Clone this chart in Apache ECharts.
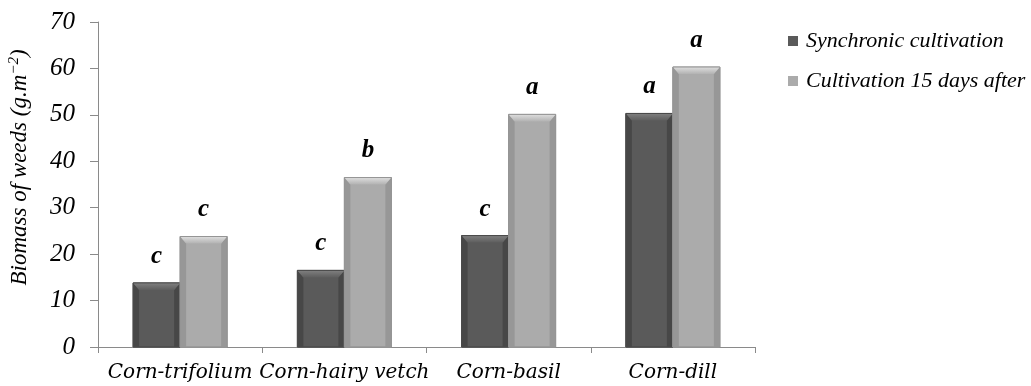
<!DOCTYPE html>
<html>
<head>
<meta charset="utf-8">
<script src="https://cdn.jsdelivr.net/npm/echarts@6/dist/echarts.min.js"></script>
<style>
  html, body { margin: 0; padding: 0; background: #fff; }
  #chart { width: 1031px; height: 386px; }
</style>
</head>
<body>
<div id="chart"></div>
<script>
// Weed biomass per intercropping treatment
const categories = ['Corn-trifolium', 'Corn-hairy vetch', 'Corn-basil', 'Corn-dill'];
const seriesNames = ['Synchronic cultivation', 'Cultivation 15 days after'];
const synchronic = [13.8, 16.5, 24.0, 50.3];
const delayed = [23.8, 36.5, 50.1, 60.3];
const synchronicLetters = ['c', 'c', 'c', 'a'];
const delayedLetters = ['c', 'b', 'a', 'a'];
const yTicks = [0, 10, 20, 30, 40, 50, 60, 70];

const serif = '"Liberation Serif", "DejaVu Serif", serif';
const wideSerif = '"DejaVu Serif", "Liberation Serif", serif';

const BAR_W = 47;
const BEVEL = 6;

// palettes for the bevelled bars: body, side edge, top highlight (light -> body), outline
const palettes = [
  { body: '#5a5a5a', edge: '#474747', topA: '#808080', topB: '#5e5e5e', line: '#4a4a4a' },
  { body: '#ababab', edge: '#979797', topA: '#dedede', topB: '#b2b2b2', line: '#959595' }
];

function bevelBar(seriesIdx, letters) {
  const pal = palettes[seriesIdx];
  return function (params, api) {
    const cat = api.value(0);
    const val = api.value(1);
    const topPt = api.coord([cat, val]);
    const basePt = api.coord([cat, 0]);
    const x0 = topPt[0] + (seriesIdx === 0 ? -BAR_W : 0);
    const x1 = x0 + BAR_W;
    const top = topPt[1];
    const bot = basePt[1];
    const b = BEVEL;
    return {
      type: 'group',
      children: [
        { type: 'rect', shape: { x: x0, y: top, width: BAR_W, height: bot - top },
          style: { fill: pal.body, stroke: pal.line, lineWidth: 1 } },
        { type: 'polygon', shape: { points: [[x0, top], [x0 + b, top + b + 1], [x0 + b, bot], [x0, bot]] },
          style: { fill: pal.edge } },
        { type: 'polygon', shape: { points: [[x1, top], [x1 - b, top + b + 1], [x1 - b, bot], [x1, bot]] },
          style: { fill: pal.edge } },
        { type: 'polygon', shape: { points: [[x0, top], [x1, top], [x1 - b, top + b + 1], [x0 + b, top + b + 1]] },
          style: {
            fill: { type: 'linear', x: 0, y: 0, x2: 0, y2: 1,
                    colorStops: [{ offset: 0, color: pal.topA }, { offset: 1, color: pal.topB }] }
          } },
        { type: 'rect', shape: { x: x0, y: top, width: BAR_W, height: bot - top },
          style: { fill: 'none', stroke: pal.line, lineWidth: 1 } },
        { type: 'text',
          style: {
            text: letters[params.dataIndex],
            x: (x0 + x1) / 2, y: top - 14,
            align: 'center', verticalAlign: 'bottom',
            font: 'italic bold 25px ' + serif,
            fill: '#000'
          } }
      ]
    };
  };
}

function makeSeries(idx, values, letters) {
  return {
    name: seriesNames[idx],
    type: 'custom',
    renderItem: bevelBar(idx, letters),
    encode: { x: 0, y: 1 },
    itemStyle: { color: palettes[idx].body },
    data: values.map((v, i) => [i, v])
  };
}

const chart = echarts.init(document.getElementById('chart'));
chart.setOption({
  animation: false,
  backgroundColor: '#fff',
  grid: { left: 98, right: 276, top: 22, bottom: 39, containLabel: false, outerBoundsMode: 'none' },
  legend: {
    orient: 'vertical',
    left: 783,
    top: 25,
    itemWidth: 10,
    itemHeight: 10,
    itemGap: 18,
    icon: 'rect',
    data: seriesNames,
    textStyle: { fontFamily: serif, fontStyle: 'italic', fontSize: 22, color: '#000', padding: [0, 0, 0, 3] }
  },
  xAxis: {
    type: 'category',
    data: categories,
    axisLine: { lineStyle: { color: '#8a8a8a', width: 1 } },
    axisTick: { show: true, length: 6, lineStyle: { color: '#8a8a8a' } },
    axisLabel: {
      fontFamily: wideSerif, fontStyle: 'italic', fontSize: 20, color: '#000', margin: 16,
      interval: 0
    }
  },
  yAxis: {
    type: 'value',
    min: 0,
    max: 70,
    interval: 10,
    name: 'Biomass of weeds (g.m{sup|−2})',
    nameLocation: 'middle',
    nameGap: 66,
    nameRotate: 90,
    nameTextStyle: {
      fontFamily: serif, fontStyle: 'italic', fontSize: 23, color: '#000',
      padding: [0, 0, 0, 34],
      rich: {
        sup: { fontFamily: serif, fontStyle: 'italic', fontSize: 15, color: '#000', verticalAlign: 'top', padding: [0, 0, 10, 0] }
      }
    },
    axisLine: { show: true, lineStyle: { color: '#8a8a8a', width: 1 } },
    axisTick: { show: true, inside: false, length: 8, lineStyle: { color: '#8a8a8a' } },
    splitLine: { show: false },
    axisLabel: {
      fontFamily: serif, fontStyle: 'italic', fontSize: 25, color: '#000', margin: 23,
      formatter: v => yTicks.includes(v) ? String(v) : ''
    }
  },
  series: [
    makeSeries(0, synchronic, synchronicLetters),
    makeSeries(1, delayed, delayedLetters)
  ]
});
</script>
</body>
</html>
